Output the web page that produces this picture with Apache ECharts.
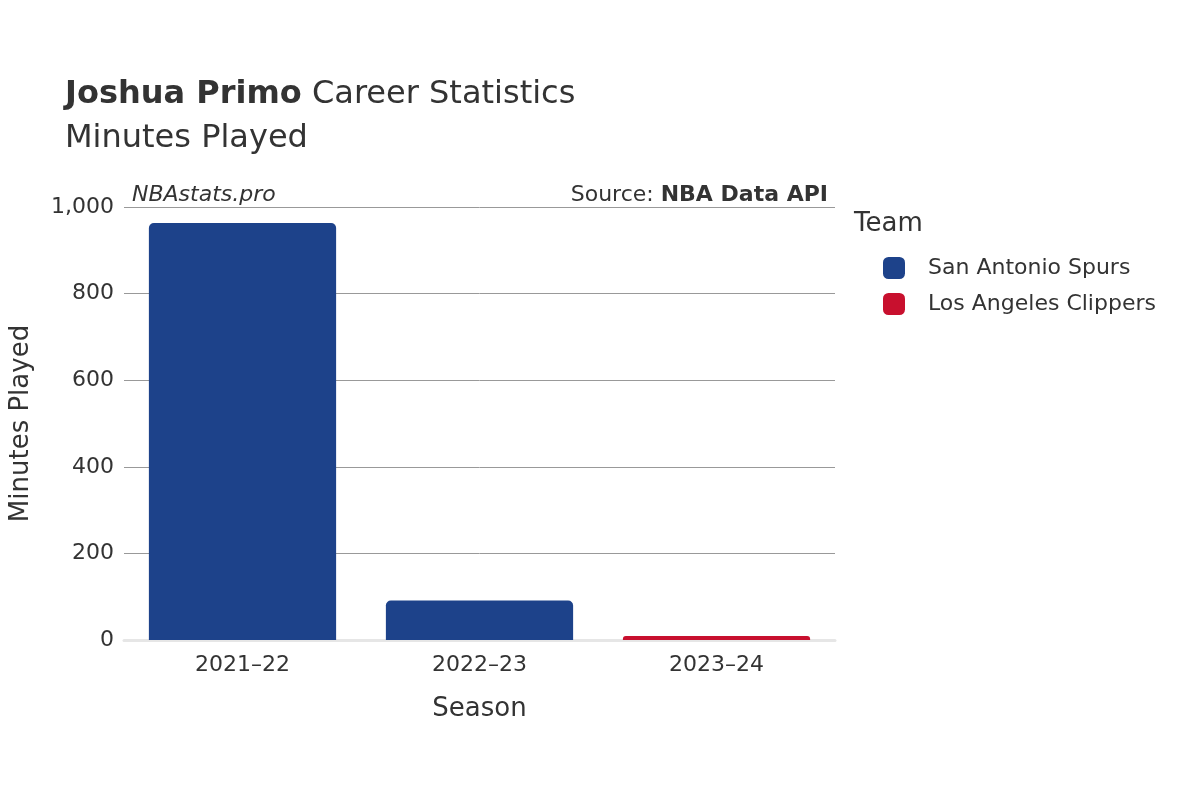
<!DOCTYPE html>
<html>
<head>
<meta charset="utf-8">
<script src="https://cdn.jsdelivr.net/npm/echarts@6/dist/echarts.min.js"></script>
<style>html,body{margin:0;padding:0;background:#fff}#main{width:1200px;height:800px}</style>
</head>
<body>
<div id="main"></div>
<script>
var seasons = ['2021–22', '2022–23', '2023–24'];
var spurs = [963, 91, '-'];
var clippers = ['-', '-', 9];
var yTicks = {min: 0, max: 1000, interval: 200};

var font = 'DejaVu Sans';
var chart = echarts.init(document.getElementById('main'));
chart.setOption({
    textStyle: {fontFamily: font},
    title: [
        {
            text: '{b|Joshua Primo} Career Statistics\nMinutes Played',
            left: 60, top: 68,
            textStyle: {
                fontFamily: font, fontSize: 32, fontWeight: 'normal', color: '#333', lineHeight: 44,
                rich: {b: {fontFamily: font, fontSize: 32, fontWeight: 'bold', color: '#333'}}
            }
        },
        {
            text: 'NBAstats.pro', left: 127, top: 179,
            textStyle: {fontFamily: font, fontSize: 22, fontStyle: 'italic', fontWeight: 'normal', color: '#333'}
        },
        {
            text: 'Source: {b|NBA Data API}', right: 367, top: 179,
            textStyle: {
                fontFamily: font, fontSize: 22, fontWeight: 'normal', color: '#333',
                rich: {b: {fontFamily: font, fontSize: 22, fontWeight: 'bold', color: '#333'}}
            }
        }
    ],
    legend: {
        orient: 'vertical', left: 878, top: 252, itemGap: 14,
        itemWidth: 22, itemHeight: 22, icon: 'roundRect',
        textStyle: {fontFamily: font, fontSize: 22, color: '#333', padding: [0, 0, 0, 18]},
        data: ['San Antonio Spurs', 'Los Angeles Clippers']
    },
    graphic: [{
        type: 'text', left: 854, top: 211,
        style: {text: 'Team', font: '26px "DejaVu Sans"', fill: '#333'}
    }],
    grid: {left: 122, right: 365, top: 207, bottom: 160},
    xAxis: {
        type: 'category', data: seasons,
        name: 'Season', nameLocation: 'middle', nameGap: 56,
        nameTextStyle: {fontFamily: font, fontSize: 26, color: '#333'},
        axisLine: {lineStyle: {color: '#e6e6e6', width: 3}},
        axisTick: {show: false},
        axisLabel: {fontFamily: font, fontSize: 22, color: '#333', margin: 14}
    },
    yAxis: {
        type: 'value', min: yTicks.min, max: yTicks.max, interval: yTicks.interval,
        name: 'Minutes Played', nameLocation: 'middle', nameGap: 90,
        nameTextStyle: {fontFamily: font, fontSize: 26, color: '#333'},
        axisLabel: {fontFamily: font, fontSize: 22, color: '#333', margin: 10},
        splitLine: {lineStyle: {color: '#999', width: 1}}
    },
    series: [
        {
            name: 'San Antonio Spurs', type: 'bar', stack: 'a', data: spurs, barWidth: '79%',
            itemStyle: {color: '#1d428a', borderRadius: [5, 5, 0, 0]}
        },
        {
            name: 'Los Angeles Clippers', type: 'bar', stack: 'a', data: clippers, barWidth: '79%',
            itemStyle: {color: '#c8102e', borderRadius: [3, 3, 0, 0]}
        }
    ]
});
</script>
</body>
</html>
